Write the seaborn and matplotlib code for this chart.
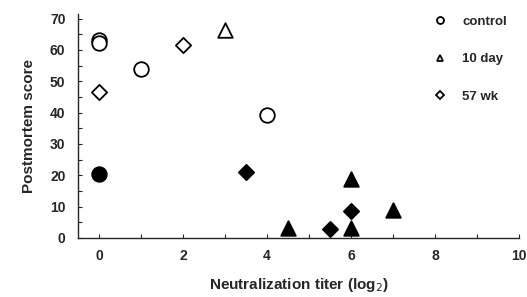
import pandas as pd
import numpy as np
import matplotlib
matplotlib.use("Agg")
import matplotlib.pyplot as plt
import seaborn as sns
from matplotlib.lines import Line2D
from matplotlib.ticker import MultipleLocator

sns.set_style("ticks")
plt.rcParams['font.family'] = ['Liberation Sans', 'DejaVu Sans']

# data
control_open_x = [0, 0, 1, 4]
control_open_y = [63.2, 62.3, 54, 39.2]
control_fill_x = [0]
control_fill_y = [20.5]

day10_open_x = [3]
day10_open_y = [66.3]
day10_fill_x = [4.5, 6, 6, 7]
day10_fill_y = [3.3, 18.8, 3.3, 9]

wk57_open_x = [0, 2]
wk57_open_y = [46.7, 61.6]
wk57_fill_x = [3.5, 5.5, 6]
wk57_fill_y = [20.9, 2.9, 8.6]

groups = ["control", "10 day", "57 wk"]
markers = {"control": "o", "10 day": "^", "57 wk": "D"}
sizes = {"control": 110, "10 day": 110, "57 wk": 60}

rows = []
for g, ox, oy, fx, fy in [
    ("control", control_open_x, control_open_y, control_fill_x, control_fill_y),
    ("10 day", day10_open_x, day10_open_y, day10_fill_x, day10_fill_y),
    ("57 wk", wk57_open_x, wk57_open_y, wk57_fill_x, wk57_fill_y),
]:
    rows += [(g, "open", x, y) for x, y in zip(ox, oy)]
    rows += [(g, "filled", x, y) for x, y in zip(fx, fy)]
df = pd.DataFrame(rows, columns=["group", "fill", "titer", "score"])

fig = plt.figure(figsize=(5.27, 2.97), dpi=100)
ax = fig.add_axes([0.148, 0.199, 0.837, 0.754])

for g in groups:
    for f in ["open", "filled"]:
        sub = df[(df.group == g) & (df.fill == f)]
        if sub.empty:
            continue
        sns.scatterplot(data=sub, x="titer", y="score", ax=ax,
                        marker=markers[g], s=sizes[g],
                        facecolor="white" if f == "open" else "black",
                        edgecolor="black", linewidth=1.3, legend=False, zorder=3)

ax.set_xlim(-0.5, 10)
ax.set_ylim(0, 71.5)
ax.xaxis.set_major_locator(MultipleLocator(2))
ax.xaxis.set_minor_locator(MultipleLocator(1))
ax.yaxis.set_major_locator(MultipleLocator(10))
ax.yaxis.set_minor_locator(MultipleLocator(5))
ax.tick_params(which="both", direction="in", length=3, width=0.8, labelsize=10)
ax.tick_params(axis="x", pad=8)
ax.tick_params(axis="y", pad=9)
for lab in ax.get_xticklabels() + ax.get_yticklabels():
    lab.set_fontweight("bold")
sns.despine(ax=ax)
ax.spines["left"].set_linewidth(1)
ax.spines["bottom"].set_linewidth(1)

ax.set_xlabel("Neutralization titer (log$_2$)", fontsize=11, fontweight="bold", labelpad=9)
ax.set_ylabel("Postmortem score", fontsize=11, fontweight="bold", labelpad=10)

handles = [Line2D([], [], linestyle="none", marker=markers[g], markersize=5 if g != "57 wk" else 4,
                  markerfacecolor="white", markeredgecolor="black", markeredgewidth=1.3)
           for g in groups]
leg = ax.legend(handles, groups, loc="upper right", bbox_to_anchor=(1.0, 1.045), frameon=False,
                fontsize=9.5, labelspacing=1.9, handletextpad=1.2, handlelength=1)
for t in leg.get_texts():
    t.set_fontweight("bold")

fig.savefig("out.png", dpi=100)
